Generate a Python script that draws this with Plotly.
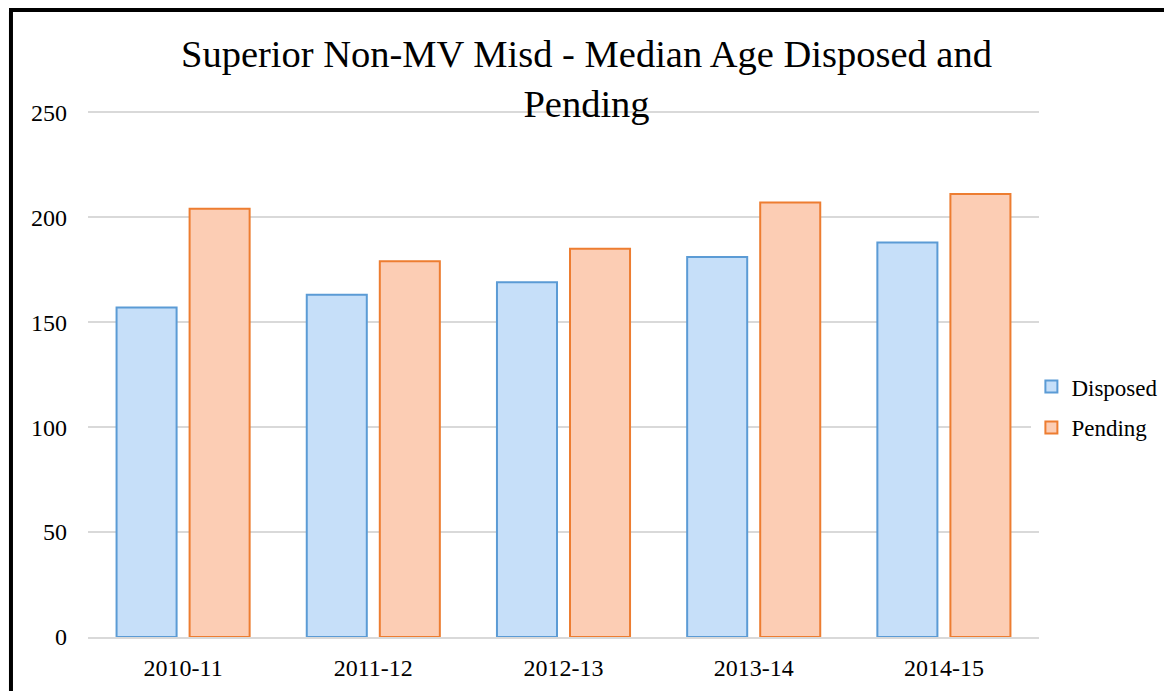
import plotly.graph_objects as go

categories = ["2010-11", "2011-12", "2012-13", "2013-14", "2014-15"]
disposed = [157, 163, 169, 181, 188]
pending = [204, 179, 185, 207, 211]
y_ticks = [0, 50, 100, 150, 200, 250]

FONT = "Liberation Serif, Times New Roman, serif"

fig = go.Figure()
fig.add_trace(go.Bar(
    name="Disposed", x=categories, y=disposed, legendgroup="d",
    marker=dict(color="#c6dff9", line=dict(color="#5b9bd5", width=2)),
))
fig.add_trace(go.Bar(
    name="Pending", x=categories, y=pending, legendgroup="p",
    marker=dict(color="#fccdb4", line=dict(color="#ed7d31", width=2)),
))

fig.update_layout(
    width=1164, height=683,
    margin=dict(l=80, r=133, t=103, b=54, autoexpand=False),
    paper_bgcolor="white", plot_bgcolor="white",
    font=dict(family=FONT, size=24, color="black"),
    title=dict(
        text="Superior Non-MV Misd - Median Age Disposed and<br>Pending",
        font=dict(family=FONT, size=38.5, color="black"),
        x=0.497, xanchor="center", y=0.914, yanchor="top",
    ),
    barmode="group", bargap=0.232, bargroupgap=0.178,
    showlegend=True,
    legend=dict(
        x=0.992, xanchor="left", y=0.437, yanchor="middle",
        font=dict(family=FONT, size=23), tracegroupgap=8,
        itemwidth=30,
    ),
    shapes=[dict(
        type="rect", xref="paper", yref="paper",
        x0=-0.081, x1=1.143, y0=-0.3, y1=1.192,
        line=dict(color="black", width=4), fillcolor="rgba(0,0,0,0)",
        layer="above",
    )],
)
fig.update_yaxes(
    range=[0, 250.6], tickvals=y_ticks, showgrid=True, gridcolor="#d9d9d9",
    gridwidth=1.5, zeroline=False, showline=False, ticklabelstandoff=20,
)
fig.update_xaxes(
    type="category",
    showline=True, linecolor="#d9d9d9", linewidth=1.5, showgrid=False,
    ticklabelstandoff=8,
)

fig.write_html("out.html")
